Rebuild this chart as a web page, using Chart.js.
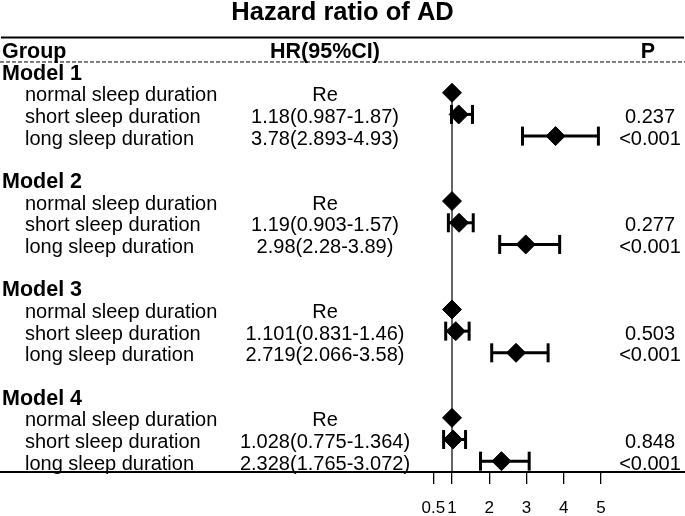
<!DOCTYPE html>
<html><head><meta charset="utf-8">
<script src="https://cdn.jsdelivr.net/npm/chart.js@4"></script>
<style>html,body{margin:0;padding:0;background:#fff}#wrap{width:685px;height:516px;position:relative}</style>
</head><body><div id="wrap"><canvas id="c"></canvas></div>
<script>
// ---- data ----
const chartTitle = 'Hazard ratio of AD';
const headers = ['Group', 'HR(95%CI)', 'P'];
const models = ['Model 1', 'Model 2', 'Model 3', 'Model 4'];
const groups = ['normal sleep duration', 'short sleep duration', 'long sleep duration'];
const hr    = [[1, 1.18, 3.78], [1, 1.19, 2.98], [1, 1.101, 2.719], [1, 1.028, 2.328]];
const lower = [[null, 0.987, 2.893], [null, 0.903, 2.28], [null, 0.831, 2.066], [null, 0.775, 1.765]];
const upper = [[null, 1.55, 4.93], [null, 1.57, 3.89], [null, 1.46, 3.58], [null, 1.364, 3.072]];
const hrLabels = [
  ['Re', '1.18(0.987-1.87)', '3.78(2.893-4.93)'],
  ['Re', '1.19(0.903-1.57)', '2.98(2.28-3.89)'],
  ['Re', '1.101(0.831-1.46)', '2.719(2.066-3.58)'],
  ['Re', '1.028(0.775-1.364)', '2.328(1.765-3.072)']
];
const pLabels = [
  ['', '0.237', '<0.001'],
  ['', '0.277', '<0.001'],
  ['', '0.503', '<0.001'],
  ['', '0.848', '<0.001']
];
const xTicks = [0.5, 1, 2, 3, 4, 5];
const refValue = 1;

// ---- layout / style ----
const FONT = "'Liberation Sans', Arial, Helvetica, sans-serif";
const ROWS_PER_MODEL = 5;
const X_MIN = -11.134, X_MAX = 7.255;
const Y_MIN = -3.28, Y_MAX = 18.5;
const COL_GROUP = 2, COL_SUB = 25, COL_HR = 325, COL_P = 650;

function rowOf(m, g) { return m * ROWS_PER_MODEL + (g === undefined ? 0 : 1 + g); }

const datasets = [];
const diamondData = [], capData = [];
models.forEach((_, m) => groups.forEach((_, g) => {
  diamondData.push({x: hr[m][g], y: rowOf(m, g)});
  if (lower[m][g] !== null) {
    capData.push({x: lower[m][g], y: rowOf(m, g)});
    capData.push({x: upper[m][g], y: rowOf(m, g)});
  }
}));
datasets.push({data: diamondData, pointStyle: 'rectRot', pointRadius: 9.5, borderWidth: 1,
  backgroundColor: '#000', borderColor: '#000', order: 0});
datasets.push({data: capData, pointStyle: 'line', rotation: 90, pointRadius: 9.5, borderWidth: 3,
  borderColor: '#000', backgroundColor: '#000', order: 1});
models.forEach((_, m) => groups.forEach((_, g) => {
  if (lower[m][g] === null) return;
  datasets.push({data: [{x: lower[m][g], y: rowOf(m, g)}, {x: upper[m][g], y: rowOf(m, g)}],
    showLine: true, borderColor: '#000', borderWidth: 3, pointRadius: 0, order: 2});
}));
datasets.push({data: [{x: refValue, y: rowOf(0, 0)}, {x: refValue, y: Y_MAX}],
  showLine: true, borderColor: '#000', borderWidth: 1.2, pointRadius: 0, order: 3});

const textPlugin = {
  id: 'forestText',
  afterDraw(chart) {
    const ctx = chart.ctx, ys = chart.scales.y, W = chart.width;
    const py = r => ys.getPixelForValue(r);
    ctx.save();
    ctx.fillStyle = '#000';
    ctx.strokeStyle = '#000';
    ctx.textBaseline = 'alphabetic';
    // title
    ctx.font = `bold 25.5px ${FONT}`;
    ctx.textAlign = 'center';
    ctx.fillText(chartTitle, W / 2, 20);
    // top rule
    ctx.lineWidth = 2;
    ctx.beginPath(); ctx.moveTo(1, py(-1.55)); ctx.lineTo(W - 1, py(-1.55)); ctx.stroke();
    // dashed rule
    ctx.lineWidth = 1;
    ctx.setLineDash([4, 2]);
    ctx.beginPath(); ctx.moveTo(0, py(-0.42)); ctx.lineTo(W, py(-0.42)); ctx.stroke();
    ctx.setLineDash([]);
    // headers
    const off = 8.5;
    ctx.font = `bold 21.5px ${FONT}`;
    ctx.textAlign = 'left'; ctx.fillText(headers[0], COL_GROUP, py(-1) + off);
    ctx.textAlign = 'center'; ctx.fillText(headers[1], COL_HR, py(-1) + off);
    ctx.fillText(headers[2], COL_P - 2, py(-1) + off);
    models.forEach((mName, m) => {
      ctx.font = `bold 21.5px ${FONT}`;
      ctx.textAlign = 'left';
      ctx.fillText(mName, COL_GROUP, py(rowOf(m)) + off);
      ctx.font = `20px ${FONT}`;
      groups.forEach((gName, g) => {
        const y = py(rowOf(m, g)) + off;
        ctx.textAlign = 'left'; ctx.fillText(gName, COL_SUB, y);
        ctx.textAlign = 'center'; ctx.fillText(hrLabels[m][g], COL_HR, y);
        if (pLabels[m][g]) ctx.fillText(pLabels[m][g], COL_P, y);
      });
    });
    ctx.restore();
  }
};

new Chart(document.getElementById('c'), {
  type: 'scatter',
  data: {datasets},
  plugins: [textPlugin],
  options: {
    responsive: true, maintainAspectRatio: false, animation: false, events: [],
    layout: {padding: 0, autoPadding: false},
    plugins: {legend: {display: false}, tooltip: {enabled: false}, title: {display: false}},
    scales: {
      x: {
        type: 'linear', position: 'bottom', min: X_MIN, max: X_MAX,
        afterBuildTicks: a => { a.ticks = xTicks.map(v => ({value: v})); },
        afterFit: a => { a.height = 44; },
        ticks: {color: '#000', font: {family: FONT, size: 17}, padding: 14, autoSkip: false,
          maxRotation: 0, callback: v => String(v)},
        grid: {drawOnChartArea: false, drawTicks: true, tickLength: 12, color: '#000', lineWidth: 1.3},
        border: {display: true, color: '#000', width: 2}
      },
      y: {type: 'linear', display: false, reverse: true, min: Y_MIN, max: Y_MAX}
    }
  }
});
</script></body></html>
